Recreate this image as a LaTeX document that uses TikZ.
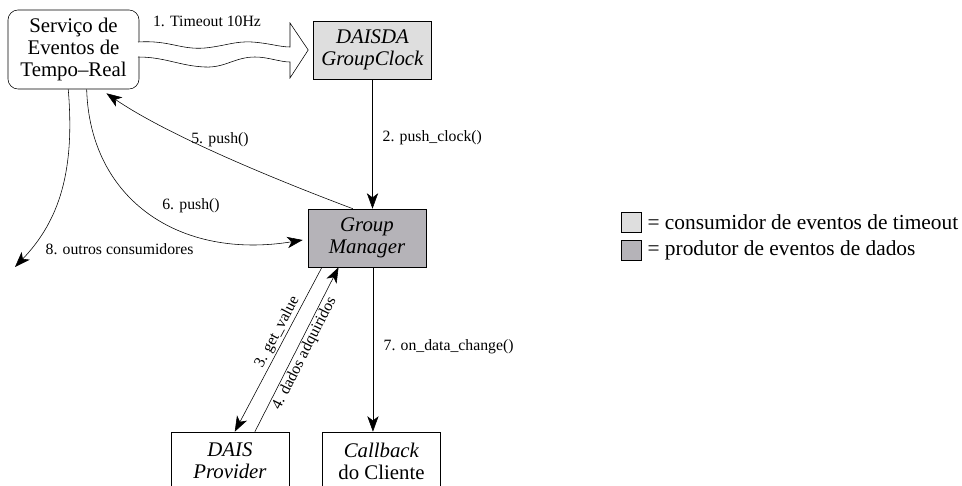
\documentclass[tikz,border=0pt]{standalone}
\usepackage{fontspec}
\setmainfont{Liberation Serif}
\usepackage{tikz}
\usetikzlibrary{arrows.meta,calc}

\definecolor{clockgray}{RGB}{222,222,222}
\definecolor{mgrgray}{RGB}{181,179,184}

\begin{document}
\begin{tikzpicture}[x=0.025cm, y=-0.025cm]
	\tikzstyle{box} = [draw=black, align=center, inner sep=0pt, minimum width=2.95cm, minimum height=1.45cm, font=\fontsize{14.8}{15.6}\selectfont]
	\tikzstyle{edge} = [-{Stealth[length=11pt, width=8pt, inset=3pt]}]
	\tikzstyle{lbl} = [font=\fontsize{11.2}{13}\selectfont, inner sep=1pt]
	\tikzstyle{key} = [draw=black, minimum size=0.5cm, inner sep=0pt]
	\tikzstyle{keytext} = [anchor=west, inner sep=0pt, font=\fontsize{15.2}{17}\selectfont]

	\useasboundingbox (0,0) rectangle (962,486);

%----------nos------------------------------
	\node[box, rounded corners=0.25cm, minimum width=3.275cm, minimum height=1.975cm] (sv) at (73.5,49.5) {Serviço de\\Eventos de\\Tempo--Real};
	\node[box, fill=clockgray] (dc) at (372.5,50) {\textit{DAISDA}\\\textit{GroupClock}};
	\node[box, fill=mgrgray] (gm) at (367,238) {\textit{Group}\\\textit{Manager}};
	\node[box] (dp) at (230,461) {\textit{DAIS}\\\textit{Provider}};
	\node[box] (cb) at (381.5,461) {\textit{Callback}\\do Cliente};

%----------1. timeout (seta larga ondulada)--------------------
	\draw[fill=white] (138,42) .. controls (170,40) and (180,50) .. (205,48)
		.. controls (225,46) and (235,41) .. (252,42)
		.. controls (268,43) and (280,47) .. (290,47)
		-- (290,23) -- ($(dc.west)+(-5,0)$) -- (290,78) -- (290,62)
		.. controls (280,62) and (268,57) .. (255,57)
		.. controls (235,57) and (225,68) .. (205,67)
		.. controls (180,66) and (165,57) .. (138,57);
	\node[lbl] (t1) at (207,21) {1. Timeout 10Hz};

%----------push_clock / push----------------------------------
	\draw[edge] (dc.south) -- (dc.south |- gm.north);
	\node[lbl, anchor=west] (l2) at (381,138) {2. push\_clock()};

	\coordinate (g5) at ($(gm.north west)!0.38!(gm.north east)$);
	\draw[edge] (g5) .. controls (250,170) and (160,130) .. ($(sv.south west)!0.75!(sv.south east)+(0,4)$);
	\node[lbl] (l5) at (220,140) {5. push()};

	\coordinate (s6) at ($(sv.south west)!0.6!(sv.south east)$);
	\draw[edge] (s6) .. controls (90,200) and (180,260) .. ($(gm.west)+(-5,2)$);
	\node[lbl] (l6) at (191,206) {6. push()};

	\coordinate (s8) at ($(sv.south west)!0.46!(sv.south east)$);
	\coordinate (o8) at (15,267);
	\draw[edge] (s8) .. controls (75,170) and (60,220) .. (o8);
	\node[lbl, anchor=west] (l8) at (44,249) {8. outros consumidores};

%----------provider / callback--------------------------------
	\coordinate (g3) at ($(gm.south west)!0.12!(gm.south east)$);
	\coordinate (g4) at ($(gm.south west)!0.26!(gm.south east)$);
	\coordinate (p3) at ($(dp.north west)!0.54!(dp.north east)$);
	\coordinate (p4) at ($(dp.north west)!0.71!(dp.north east)$);
	\draw[edge] (g3) -- (p3) node[lbl, pos=0.42, sloped, above] {3. get\_value};
	\draw[edge] (p4) -- (g4) node[lbl, pos=0.5, sloped, below] {4. dados adquiridos};

	\coordinate (g7) at ($(gm.south west)!0.55!(gm.south east)$);
	\draw[edge] (g7) -- (g7 |- cb.north);
	\node[lbl, anchor=west] (l7) at (382,347) {7. on\_data\_change()};

%----------legenda--------------------------------------------
	\node[key, fill=clockgray] (k1) at (631,222) {};
	\node[key, fill=mgrgray] (k2) at (631,250) {};
	\node[keytext] (t1k) at ($(k1.east)+(6,0)$) {= consumidor de eventos de timeout};
	\node[keytext] (t2k) at ($(k2.east)+(6,0)$) {= produtor de eventos de dados};
\end{tikzpicture}
\end{document}
